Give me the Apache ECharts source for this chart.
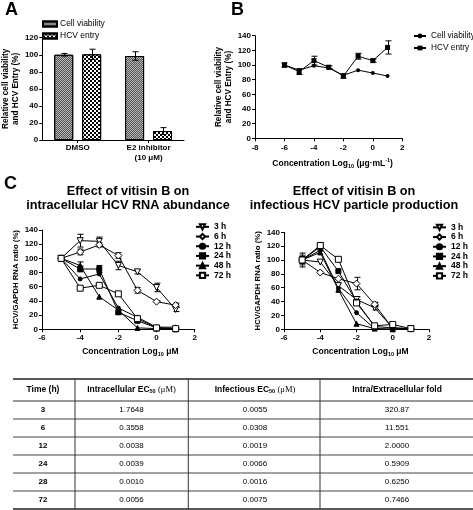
<!DOCTYPE html>
<html><head><meta charset="utf-8">
<script src="https://cdn.jsdelivr.net/npm/echarts@6/dist/echarts.min.js"></script>
<style>html,body{margin:0;padding:0;background:#fff}#c{width:473px;height:510px}</style>
</head><body><div id="c"></div>
<script>
const FONT = '"Liberation Sans", Arial, Helvetica, sans-serif';

// ---------- Panel A ----------
const aCategories = ['DMSO', 'E2 inhibitor\n(10 μM)'];
const aCellViability = [100, 98.5];
const aCellViabilityErr = [1.5, 5];
const aHcvEntry = [100.5, 10.5];
const aHcvEntryErr = [6, 4];
const aYRange = [0, 120, 20];

// ---------- Panel B ----------
const bConc = [-6, -5, -4, -3, -2, -1, 0, 1];
const bCellViability = [100, 93, 99, 96, 86, 93, 89, 85];
const bHcvEntry = [100, 91, 106, 97, 85, 112, 106, 124];
const bHcvEntryErr = [3, 4, 6, 2, 3, 4, 2, 9];
const bXRange = [-8, 2, 2];
const bYRange = [0, 140, 20];

// ---------- Panel C ----------
const cTimes = ['3 h', '6 h', '12 h', '24 h', '48 h', '72 h'];
const cConc = [-5, -4, -3, -2, -1, 0, 1];
const cXRange = [-6, 2, 2];
const cYRange = [0, 140, 20];
// intracellular HCV RNA abundance
const intra3h  = [100, 125, 124, 90, 81, 59, 28];
const intra6h  = [100, 109, 119, 104, 55, 39, 34];
const intra12h = [100, 71, 78, 30, 17, 3, 3];
const intra24h = [100, 85, 85, 24, 12, 2, 1];
const intra48h = [100, 90, 46, 27, 2, 1, 0];
const intra72h = [100, 58, 62, 50, 15, 2, 1];
const intra3hErr  = [0, 9, 6, 6, 3, 6, 3];
const intra6hErr  = [0, 4, 3, 4, 4, 1, 3];
const intra12hErr = [0, 0, 0, 0, 0, 0, 0];
const intra24hErr = [0, 4, 5, 3, 2, 1, 1];
const intra48hErr = [0, 5, 0, 0, 0, 0, 0];
const intra72hErr = [0, 2, 2, 3, 2, 0, 0];
// infectious HCV particle production
const infec3h  = [100, 97, 63, 43, 31, 2, 1];
const infec6h  = [100, 82, 73, 66, 36, 1, 1];
const infec12h = [100, 114, 59, 24, 1, 0, 1];
const infec24h = [100, 119, 84, 40, 4, 2, 1];
const infec48h = [100, 111, 57, 8, 1, 0, 1];
const infec72h = [100, 121, 101, 38, 5, 7, 1];
const infec3hErr  = [7, 0, 0, 4, 3, 0, 0];
const infec6hErr  = [0, 0, 0, 9, 3, 0, 0];
const infec12hErr = [0, 0, 0, 0, 0, 0, 0];
const infec24hErr = [10, 6, 0, 3, 0, 0, 0];
const infec48hErr = [0, 0, 0, 0, 0, 0, 0];
const infec72hErr = [5, 3, 0, 0, 0, 0, 0];

// ---------- Table ----------
const tableHeader = ['Time (h)', 'Intracellular EC{sub|50} {u|(μM)}', 'Infectious EC{sub|50} {u|(μM)}', 'Intra/Extracellular fold'];
const tableTime = ['3', '6', '12', '24', '28', '72'];
const tableIntracellular = ['1.7648', '0.3558', '0.0038', '0.0039', '0.0010', '0.0056'];
const tableInfectious = ['0.0055', '0.0308', '0.0019', '0.0066', '0.0016', '0.0075'];
const tableFold = ['320.87', '11.551', '2.0000', '0.5909', '0.6250', '0.7466'];

// ---------- helpers ----------
function zip(xs, ys) { return xs.map((x, i) => [x, ys[i]]); }
function zip3(xs, ys, es) { return xs.map((x, i) => [x, ys[i], es[i]]); }

function axisBase(range, grid, extra) {
  return Object.assign({
    type: 'value', gridIndex: grid, min: range[0], max: range[1], interval: range[2],
    axisLine: { show: true, onZero: false, lineStyle: { color: '#000', width: 1 } },
    axisTick: { show: true, length: 3, lineStyle: { color: '#000', width: 1 } },
    axisLabel: { color: '#000', fontSize: 8, fontWeight: 'bold', fontFamily: FONT, margin: 4 },
    splitLine: { show: false },
    nameTextStyle: { color: '#000', fontSize: 8.2, fontWeight: 'bold', fontFamily: FONT, lineHeight: 10 }
  }, extra || {});
}

function errRender(offsetPx) {
  return function (params, api) {
    const x = api.value(0), y = api.value(1), e = api.value(2);
    if (!e) return null;
    const t = api.coord([x, y + e]), b = api.coord([x, y - e]);
    const cx = Math.round(t[0] + offsetPx) + 0.5, hw = 3;
    const st = { stroke: '#000', lineWidth: 1 };
    return { type: 'group', children: [
      { type: 'line', shape: { x1: cx, y1: t[1], x2: cx, y2: b[1] }, style: st },
      { type: 'line', shape: { x1: cx - hw, y1: t[1], x2: cx + hw, y2: t[1] }, style: st },
      { type: 'line', shape: { x1: cx - hw, y1: b[1], x2: cx + hw, y2: b[1] }, style: st }
    ] };
  };
}

const cStyles = [
  { symbol: 'triangle', rotate: 180, symbolSize: 6, fill: '#fff' },
  { symbol: 'diamond', rotate: 0, symbolSize: 7, fill: '#fff' },
  { symbol: 'circle', rotate: 0, symbolSize: 4, fill: '#000' },
  { symbol: 'rect', rotate: 0, symbolSize: 5, fill: '#000' },
  { symbol: 'triangle', rotate: 0, symbolSize: 5, fill: '#000' },
  { symbol: 'rect', rotate: 0, symbolSize: 6, fill: '#fff' }
];
const intraSets = [intra3h, intra6h, intra12h, intra24h, intra48h, intra72h];
const intraErrs = [intra3hErr, intra6hErr, intra12hErr, intra24hErr, intra48hErr, intra72hErr];
const infecSets = [infec3h, infec6h, infec12h, infec24h, infec48h, infec72h];
const infecErrs = [infec3hErr, infec6hErr, infec12hErr, infec24hErr, infec48hErr, infec72hErr];

function cSeries(sets, axis) {
  return sets.map((vals, i) => ({
    type: 'line', name: cTimes[i], xAxisIndex: axis, yAxisIndex: axis,
    data: zip(cConc, vals), symbol: cStyles[i].symbol, symbolSize: cStyles[i].symbolSize,
    symbolRotate: cStyles[i].rotate, showAllSymbol: true,
    itemStyle: { color: cStyles[i].fill, borderColor: '#000', borderWidth: 1 },
    lineStyle: { color: '#000', width: 1 }, emphasis: { disabled: true }, z: 3
  }));
}
function cErrSeries(sets, errs, axis) {
  const data = [];
  sets.forEach((vals, i) => cConc.forEach((x, j) => { if (errs[i][j]) data.push([x, vals[j], errs[i][j]]); }));
  return { type: 'custom', xAxisIndex: axis, yAxisIndex: axis, data, renderItem: errRender(0), z: 2, silent: true };
}

const nameRich = {
  sub: { fontSize: 5.5, fontWeight: 'bold', fontFamily: FONT, verticalAlign: 'bottom', lineHeight: 6 },
  sup: { fontSize: 5.5, fontWeight: 'bold', fontFamily: FONT, verticalAlign: 'top', lineHeight: 6 }
};

// ---------- table graphics ----------
const tLeft = 13, tRight = 473, tTop = 379, tHeadBottom = 401, tRowH = 18;
const tDividers = [75, 188.3, 320];
const tCenters = [43, 131.5, 255, 397];
const tableGraphics = [];
const tBottom = tHeadBottom + tRowH * tableTime.length;
tableGraphics.push({ type: 'line', shape: { x1: tLeft, y1: tTop, x2: tRight, y2: tTop }, style: { stroke: '#222', lineWidth: 1.5 } });
tableGraphics.push({ type: 'line', shape: { x1: tLeft, y1: tHeadBottom, x2: tRight, y2: tHeadBottom }, style: { stroke: '#333', lineWidth: 1.2 } });
for (let i = 1; i < tableTime.length; i++) {
  const y = tHeadBottom + tRowH * i;
  tableGraphics.push({ type: 'line', shape: { x1: tLeft, y1: y, x2: tRight, y2: y }, style: { stroke: '#444', lineWidth: 1 } });
}
tableGraphics.push({ type: 'line', shape: { x1: tLeft, y1: tBottom, x2: tRight, y2: tBottom }, style: { stroke: '#222', lineWidth: 1.5 } });
tDividers.forEach(x => tableGraphics.push({ type: 'line', shape: { x1: x, y1: tTop, x2: x, y2: tBottom }, style: { stroke: '#333', lineWidth: 1 } }));
tableHeader.forEach((h, c) => tableGraphics.push({
  type: 'text', x: tCenters[c], y: (tTop + tHeadBottom) / 2,
  style: { text: h, fontSize: 8.5, fontWeight: 'bold', fontFamily: FONT, fill: '#000', align: 'center', verticalAlign: 'middle',
    rich: { sub: { fontSize: 5.5, fontWeight: 'bold', fontFamily: FONT, verticalAlign: 'bottom', lineHeight: 6 },
            u: { fontSize: 8.5, fontFamily: '"Liberation Serif", "Times New Roman", serif', fontWeight: 'normal' } } }
}));
const tableCols = [tableTime, tableIntracellular, tableInfectious, tableFold];
tableCols.forEach((col, c) => col.forEach((v, r) => tableGraphics.push({
  type: 'text', x: tCenters[c], y: tHeadBottom + tRowH * r + tRowH / 2 - 0.5,
  style: { text: v, fontSize: 8, fontWeight: c === 0 ? 'bold' : 'normal', fontFamily: FONT, fill: '#000', align: 'center', verticalAlign: 'middle' }
})));

function label(text, x, y, size, align) {
  return { type: 'text', x, y, style: { text, fontSize: size, fontWeight: 'bold', fontFamily: FONT, fill: '#000', align: align || 'left', verticalAlign: 'middle' } };
}

const option = {
  animation: false,
  backgroundColor: '#fff',
  textStyle: { fontFamily: FONT },
  grid: [
    { left: 42, top: 37.7, width: 142, height: 102.3 },
    { left: 255, top: 35.7, width: 147.3, height: 102.6 },
    { left: 42, top: 230, width: 152.7, height: 99.3 },
    { left: 284, top: 232.3, width: 145, height: 97 }
  ],
  xAxis: [
    { type: 'category', gridIndex: 0, data: aCategories,
      axisLine: { show: true, lineStyle: { color: '#000', width: 1 } },
      axisTick: { show: true, alignWithLabel: true, length: 3, lineStyle: { color: '#000' } },
      axisLabel: { color: '#000', fontSize: 8, fontWeight: 'bold', fontFamily: FONT, margin: 3, lineHeight: 10 },
      splitLine: { show: false } },
    axisBase(bXRange, 1, { axisLabel: { color: '#000', fontSize: 8, fontWeight: 'bold', fontFamily: FONT, margin: 5 },
      name: 'Concentration Log{sub|10} (μg·mL{sup|-1})', nameLocation: 'middle', nameGap: 19,
      nameTextStyle: { color: '#000', fontSize: 8.5, fontWeight: 'bold', fontFamily: FONT, lineHeight: 12, padding: [0, 0, 0, 8], rich: nameRich } }),
    axisBase(cXRange, 2, { name: 'Concentration Log{sub|10} μM', nameLocation: 'middle', nameGap: 16,
      nameTextStyle: { color: '#000', fontSize: 8.5, fontWeight: 'bold', fontFamily: FONT, lineHeight: 12, padding: [0, 0, 0, 24], rich: nameRich } }),
    axisBase(cXRange, 3, { name: 'Concentration Log{sub|10} μM', nameLocation: 'middle', nameGap: 16,
      nameTextStyle: { color: '#000', fontSize: 8.5, fontWeight: 'bold', fontFamily: FONT, lineHeight: 12, padding: [0, 0, 0, 8], rich: nameRich } })
  ],
  yAxis: [
    axisBase(aYRange, 0, { name: 'Relative cell viability\nand HCV Entry (%)', nameLocation: 'middle', nameGap: 15 }),
    axisBase(bYRange, 1, { name: 'Relative cell viability\nand HCV Entry (%)', nameLocation: 'middle', nameGap: 15 }),
    axisBase(cYRange, 2, { name: 'HCV/GAPDH RNA ratio (%)', nameLocation: 'middle', nameGap: 22,
      nameTextStyle: { color: '#000', fontSize: 7.8, fontWeight: 'bold', fontFamily: FONT } }),
    axisBase(cYRange, 3, { name: 'HCV/GAPDH RNA ratio (%)', nameLocation: 'middle', nameGap: 22,
      nameTextStyle: { color: '#000', fontSize: 7.8, fontWeight: 'bold', fontFamily: FONT } })
  ],
  legend: [
    { left: 42, top: 19.5, padding: 0, orient: 'vertical', icon: 'rect', itemWidth: 14, itemHeight: 5, itemGap: 3,
      data: ['Cell viability', 'HCV entry'], selectedMode: false,
      textStyle: { fontSize: 8.5, color: '#000', fontFamily: FONT, padding: [0, 0, 0, -2] } },
    { left: 413, top: 32, padding: 0, orient: 'vertical', itemWidth: 12, itemHeight: 6, itemGap: 4,
      data: ['Cell viability ', 'HCV entry '], selectedMode: false, formatter: n => n.trim(),
      textStyle: { fontSize: 8.3, color: '#000', fontFamily: FONT } },
    { left: 195, top: 222, padding: 0, orient: 'vertical', itemWidth: 13, itemHeight: 6.5, itemGap: 0,
      data: cTimes, selectedMode: false,
      textStyle: { fontSize: 8.5, fontWeight: 'bold', color: '#000', fontFamily: FONT, lineHeight: 9.7 } },
    { left: 432, top: 222.5, padding: 0, orient: 'vertical', itemWidth: 13, itemHeight: 6.5, itemGap: 0,
      data: cTimes, selectedMode: false,
      textStyle: { fontSize: 8.5, fontWeight: 'bold', color: '#000', fontFamily: FONT, lineHeight: 9.7 } }
  ],
  series: [
    { type: 'bar', name: 'Cell viability', xAxisIndex: 0, yAxisIndex: 0, data: aCellViability,
      barWidth: 19, barGap: '47%',
      itemStyle: { color: '#b8b8b8', borderColor: '#000', borderWidth: 1,
        decal: { symbol: 'rect', symbolSize: 1, dashArrayX: [[1, 1], [0, 1, 1, 0]], dashArrayY: [1, 0], color: '#555' } },
      emphasis: { disabled: true } },
    { type: 'bar', name: 'HCV entry', xAxisIndex: 0, yAxisIndex: 0, data: aHcvEntry,
      barWidth: 19,
      itemStyle: { color: '#fff', borderColor: '#000', borderWidth: 1,
        decal: { symbol: 'rect', symbolSize: 1, dashArrayX: [[2, 2], [0, 2, 2, 0]], dashArrayY: [2, 0], color: '#000' } },
      emphasis: { disabled: true } },
    { type: 'custom', xAxisIndex: 0, yAxisIndex: 0, data: zip3([0, 1], aCellViability, aCellViabilityErr), renderItem: errRender(-14), z: 5, silent: true },
    { type: 'custom', xAxisIndex: 0, yAxisIndex: 0, data: zip3([0, 1], aHcvEntry, aHcvEntryErr), renderItem: errRender(14), z: 5, silent: true },
    { type: 'line', name: 'Cell viability ', xAxisIndex: 1, yAxisIndex: 1, data: zip(bConc, bCellViability),
      symbol: 'circle', symbolSize: 4, itemStyle: { color: '#000' }, lineStyle: { color: '#000', width: 1 }, emphasis: { disabled: true }, z: 3 },
    { type: 'line', name: 'HCV entry ', xAxisIndex: 1, yAxisIndex: 1, data: zip(bConc, bHcvEntry),
      symbol: 'rect', symbolSize: 5, itemStyle: { color: '#000' }, lineStyle: { color: '#000', width: 1 }, emphasis: { disabled: true }, z: 3 },
    { type: 'custom', xAxisIndex: 1, yAxisIndex: 1, data: zip3(bConc, bHcvEntry, bHcvEntryErr), renderItem: errRender(0), z: 2, silent: true },
    ...cSeries(intraSets, 2),
    cErrSeries(intraSets, intraErrs, 2),
    ...cSeries(infecSets, 3),
    cErrSeries(infecSets, infecErrs, 3)
  ],
  graphic: [
    label('A', 5, 10, 18),
    label('B', 231, 10, 18),
    label('C', 4, 184, 18),
    label('Effect of vitisin B on', 128, 191, 12.7, 'center'),
    label('intracellular HCV RNA abundance', 128, 205, 12.7, 'center'),
    label('Effect of vitisin B on', 354, 191, 12.7, 'center'),
    label('infectious HCV particle production', 354, 205, 12.7, 'center'),
    ...tableGraphics
  ]
};
const chart = echarts.init(document.getElementById('c'), null, { renderer: 'canvas' });
chart.setOption(option);
</script></body></html>
